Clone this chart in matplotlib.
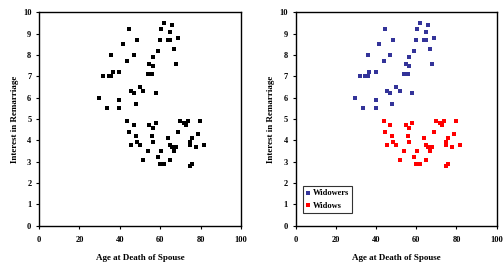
import matplotlib
matplotlib.use("Agg")
import matplotlib.pyplot as plt

widower_age = [29.7, 31.8, 33.7, 34.5, 35.8, 35.8, 36.6, 39.8, 39.8, 39.8, 41.6, 43.8, 44.6,
               45.6, 46.8, 46.8, 47.8, 48.6, 49.9, 51.7, 53.9, 54.7, 54.7, 55.7, 56.5, 56.5,
               57.9, 58.7, 59.7, 60.5, 61.9, 63.7, 64.8, 64.8, 65.8, 66.7, 67.7, 68.8]
widower_int = [6.0, 7.0, 5.5, 7.0, 7.0, 8.0, 7.2, 7.2, 5.9, 5.5, 8.5, 7.7, 9.2,
               6.3, 8.0, 6.2, 5.7, 8.7, 6.5, 6.3, 7.1, 7.6, 7.1, 7.1, 7.9, 7.5,
               6.2, 8.2, 8.7, 9.2, 9.5, 8.7, 8.7, 9.1, 9.4, 8.3, 7.6, 8.8]
widow_age = [43.8, 44.6, 45.6, 46.8, 47.8, 48.6, 49.9, 51.7, 53.9, 54.7, 55.7, 56.5, 56.5,
             57.9, 58.7, 59.7, 60.5, 61.9, 63.7, 64.8, 64.8, 65.8, 66.7, 67.7, 68.8, 69.8,
             71.6, 72.8, 73.8, 74.6, 74.6, 74.6, 75.9, 75.9, 77.8, 78.6, 79.9, 81.8]
widow_int = [4.9, 4.4, 3.8, 4.7, 4.2, 3.9, 3.8, 3.1, 3.5, 4.7, 4.2, 4.6, 3.9,
             4.8, 3.2, 2.9, 3.5, 2.9, 4.1, 3.8, 3.1, 3.7, 3.5, 3.7, 4.4, 4.9,
             4.8, 4.7, 4.9, 3.9, 3.8, 2.8, 4.1, 2.9, 3.7, 4.3, 4.9, 3.8]

x_ticks = [0, 20, 40, 60, 80, 100]
y_ticks = list(range(0, 11))
x_label = "Age at Death of Spouse"
y_label = "Interest in Remarriage"
series_names = ["Widowers", "Widows"]
colors = ["#333399", "#ff0000"]

plt.rcParams['font.family'] = ['Liberation Serif', 'DejaVu Serif']
plt.rcParams['font.weight'] = 'bold'

W, H = 503, 264
fig = plt.figure(figsize=(W / 100, H / 100), dpi=100)
fig.patch.set_facecolor('white')

ax_l = fig.add_axes([39 / W, (H - 225.7) / H, 202 / W, 213.4 / H])
ax_r = fig.add_axes([295.7 / W, (H - 225.7) / H, 201 / W, 213.4 / H])


def style(ax):
    ax.set_xlim(0, 100)
    ax.set_ylim(0, 10)
    ax.set_xticks(x_ticks)
    ax.set_yticks(y_ticks)
    ax.tick_params(direction='out', length=2.5, width=0.8, labelsize=6, pad=3)
    ax.tick_params(axis='x', pad=5)
    for lab in ax.get_xticklabels() + ax.get_yticklabels():
        lab.set_fontweight('bold')
    for sp in ax.spines.values():
        sp.set_linewidth(1.0)
        sp.set_color('black')
    ax.set_xlabel(x_label, fontsize=6.5, fontweight='bold', labelpad=7)
    ax.set_ylabel(y_label, fontsize=6.5, fontweight='bold', labelpad=3)


ms = 11
ax_l.scatter(widower_age, widower_int, marker='s', s=ms, color='black', linewidths=0)
ax_l.scatter(widow_age, widow_int, marker='s', s=ms, color='black', linewidths=0)
style(ax_l)

ax_r.scatter(widower_age, widower_int, marker='s', s=ms, color=colors[0], linewidths=0,
             label=series_names[0])
ax_r.scatter(widow_age, widow_int, marker='s', s=ms, color=colors[1], linewidths=0,
             label=series_names[1])
style(ax_r)
leg = ax_r.legend(loc='lower left', bbox_to_anchor=(0.035, 0.06), fontsize=6,
                  frameon=True, fancybox=False, edgecolor='black', handlelength=0.5,
                  handletextpad=0.3, borderpad=0.4, labelspacing=0.5, markerscale=0.8,
                  borderaxespad=0)
leg.get_frame().set_linewidth(0.8)
for t in leg.get_texts():
    t.set_fontweight('bold')

fig.savefig("out.png", dpi=100)
